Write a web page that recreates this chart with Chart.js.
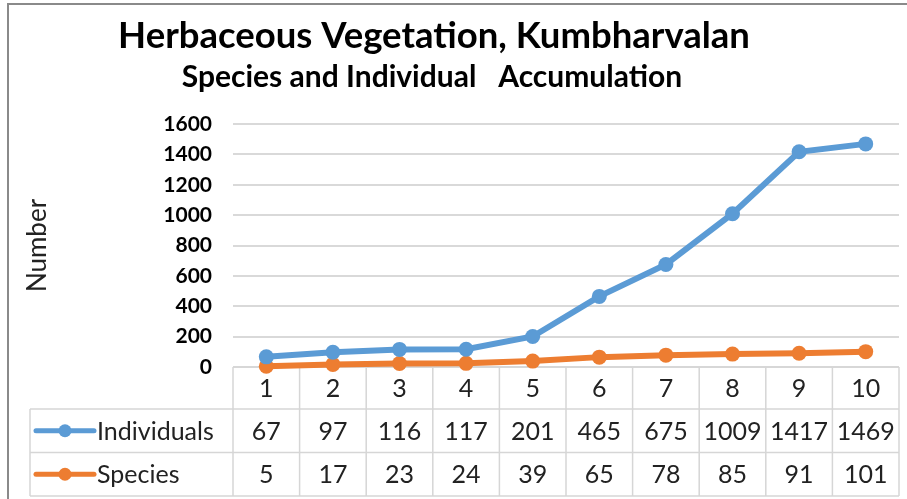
<!DOCTYPE html>
<html>
<head>
<meta charset="utf-8">
<script src="https://cdn.jsdelivr.net/npm/chart.js@4.4.1/dist/chart.umd.min.js"></script>
<style>
html, body { margin: 0; padding: 0; background: #fff; }
#wrap { width: 907px; height: 499px; position: relative; }
</style>
</head>
<body>
<div id="wrap"><canvas id="accChart"></canvas></div>
<script>
// data
const categories = ['1', '2', '3', '4', '5', '6', '7', '8', '9', '10'];
const individuals = [67, 97, 116, 117, 201, 465, 675, 1009, 1417, 1469];
const species = [5, 17, 23, 24, 39, 65, 78, 85, 91, 101];
const seriesNames = ['Individuals', 'Species'];
const seriesColors = ['#5B9BD5', '#ED7D31'];
const yMin = 0, yMax = 1600, yStep = 200;
const chartTitle = 'Herbaceous Vegetation, Kumbharvalan';
const chartSubtitle = 'Species and Individual   Accumulation';
const yTitle = 'Number';

Chart.defaults.font.family = "Lato, 'Open Sans', sans-serif";

const headerH = 42, rowH = 43.5;

// frame + title lines
const framePlugin = {
    id: 'frame',
    beforeDraw(chart) {
        const c = chart.ctx;
        c.save();
        c.fillStyle = '#fff';
        c.fillRect(0, 0, chart.width, chart.height);
        c.strokeStyle = '#8a8a8a';
        c.lineWidth = 2;
        c.beginPath();
        c.moveTo(8, chart.height);
        c.lineTo(8, 4);
        c.lineTo(chart.width, 4);
        c.stroke();
        c.fillStyle = '#000';
        c.textAlign = 'center';
        c.textBaseline = 'middle';
        c.font = 'bold 36.5px Lato';
        c.fillText(chartTitle, 434, 36);
        c.font = 'bold 30px Lato';
        c.fillText(chartSubtitle, 432, 77);
        c.restore();
    }
};

// Excel style data table under the plot
const tablePlugin = {
    id: 'dataTable',
    beforeDatasetsDraw(chart) {
        const c = chart.ctx, area = chart.chartArea, xs = chart.scales.x;
        const n = categories.length, colW = area.width / n;
        const top = area.bottom, r1 = top + headerH, r2 = r1 + rowH, r3 = r2 + rowH;
        const legendLeft = 30;
        c.save();
        c.strokeStyle = '#d6d6d6';
        c.lineWidth = 1.5;
        c.beginPath();
        c.moveTo(area.left, top); c.lineTo(area.right, top);
        [r1, r2, r3].forEach(y => { c.moveTo(legendLeft, y); c.lineTo(area.right, y); });
        for (let i = 0; i <= n; i++) {
            const x = area.left + i * colW;
            c.moveTo(x, top); c.lineTo(x, r3);
        }
        c.moveTo(legendLeft, r1); c.lineTo(legendLeft, r3);
        c.stroke();

        c.fillStyle = '#222';
        c.font = '25px Lato';
        c.textAlign = 'center';
        c.textBaseline = 'middle';
        categories.forEach((lab, i) => c.fillText(lab, xs.getPixelForValue(i), top + headerH / 2 + 1));

        [individuals, species].forEach((vals, r) => {
            const cy = r1 + rowH * r + rowH / 2 + 1;
            c.fillStyle = '#222';
            c.textAlign = 'center';
            vals.forEach((v, i) => c.fillText(String(v), xs.getPixelForValue(i), cy));
            // legend key
            c.strokeStyle = seriesColors[r];
            c.lineWidth = 5;
            c.lineCap = 'round';
            c.beginPath();
            c.moveTo(36, cy - 1); c.lineTo(94, cy - 1);
            c.stroke();
            c.fillStyle = seriesColors[r];
            c.beginPath();
            c.arc(65, cy - 1, 6.5, 0, Math.PI * 2);
            c.fill();
            c.fillStyle = '#222';
            c.textAlign = 'left';
            c.fillText(seriesNames[r], 97, cy);
        });
        c.restore();
    }
};

new Chart(document.getElementById('accChart'), {
    type: 'line',
    data: {
        labels: categories,
        datasets: [
            { label: seriesNames[0], data: individuals },
            { label: seriesNames[1], data: species }
        ].map((d, i) => Object.assign(d, {
            borderColor: seriesColors[i],
            backgroundColor: seriesColors[i],
            pointBackgroundColor: seriesColors[i],
            borderWidth: 6,
            pointRadius: 7.5,
            pointBorderWidth: 0,
            tension: 0,
            clip: false
        }))
    },
    options: {
        responsive: true,
        maintainAspectRatio: false,
        animation: false,
        layout: { padding: { left: 0, right: 8, top: 124, bottom: 0 } },
        plugins: {
            legend: { display: false },
            title: { display: false },
            tooltip: { enabled: false }
        },
        scales: {
            x: {
                offset: true,
                grid: { display: false },
                border: { display: false },
                ticks: { display: false },
                afterFit(a) { a.height = 132; }
            },
            y: {
                min: yMin,
                max: yMax,
                ticks: {
                    stepSize: yStep,
                    padding: 21,
                    color: '#000',
                    font: { size: 21, weight: 'bold' },
                    callback: v => String(v)
                },
                grid: { color: '#d9d9d9', lineWidth: 2, drawTicks: false },
                border: { display: false },
                title: { display: true, text: yTitle, color: '#222', font: { size: 26 }, padding: { top: 22, bottom: 0 } },
                afterFit(a) { a.width = 233; }
            }
        }
    },
    plugins: [framePlugin, tablePlugin]
});
</script>
</body>
</html>
